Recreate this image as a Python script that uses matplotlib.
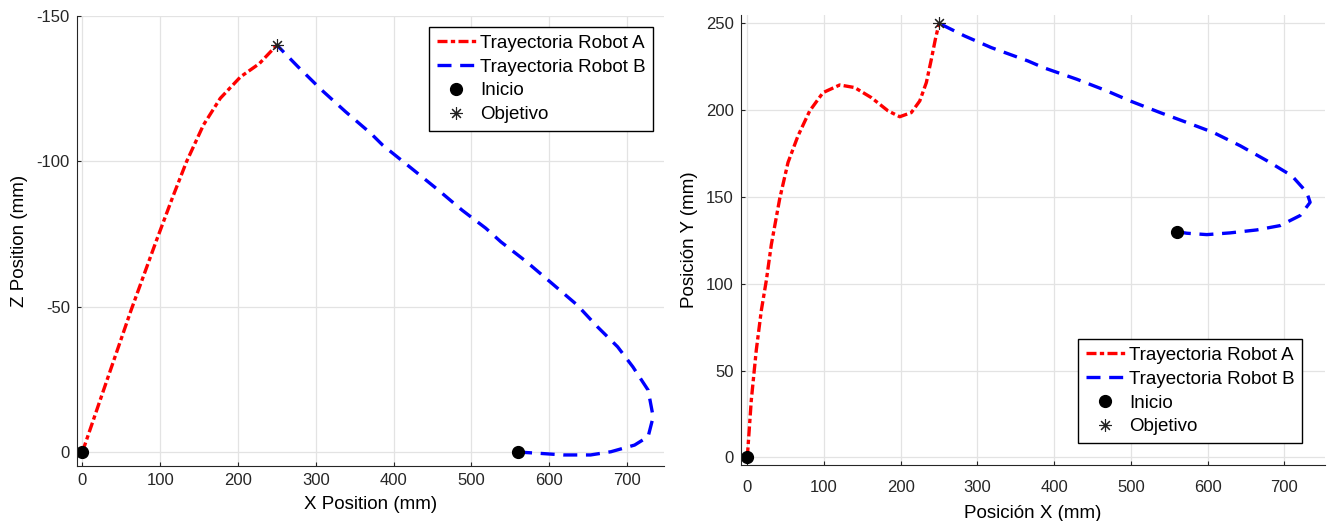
"""
    TRAYECTORIAS ROBOT A / ROBOT B  (vista XZ y vista XY)
"""
import numpy as np
import matplotlib
matplotlib.use("Agg")
from matplotlib import pyplot as plt

plt.rcParams['font.family'] = ['Liberation Sans', 'DejaVu Sans']
plt.rcParams['axes.unicode_minus'] = False

# Vista X-Z (robot A sale de (0,0), robot B de (560,0), objetivo (250,-140))
xz_a_x = [0, 33.9, 62.2, 94.8, 116.5, 133.9, 155.6, 177.3, 203.4, 227.4, 250]
xz_a_z = [0, -26.5, -48.5, -72.5, -88, -99.9, -112.5, -121.7, -129.1, -133.6, -140]
xz_b_x = [560, 588, 618.5, 653.2, 679.3, 709.8, 727.2, 733.7, 727.2, 707.6, 688, 662, 635.9,
          601, 570.7, 538, 518.5, 488.1, 457.6, 423, 385.9, 370.8, 338.2, 307.7, 277.3, 250]
xz_b_z = [0, 0.45, 1.0, 1.0, -0.1, -2.4, -5.3, -12.1, -21.3, -29.3, -36.2, -43.1, -50.6,
          -58.6, -65.5, -72.3, -77, -83.2, -90.1, -97.6, -105.6, -109.6, -117.1, -124.5,
          -132.5, -140]

# Vista X-Y (robot A sale de (0,0), robot B de (560,130), objetivo (250,250))
xy_a_x = [0, 5.2, 11.7, 18.3, 24.8, 31.3, 42.2, 53.1, 66.1, 81.4, 98.7, 120.5, 140, 161.7,
          183.4, 198.7, 213.8, 224.8, 233.4, 239.9, 245.1, 250]
xy_a_y = [0, 32.9, 61.7, 84.7, 101.9, 122.5, 148.9, 169.9, 185.2, 199.6, 210.1, 214.5, 213,
          207.2, 199.6, 196.2, 198.6, 205.3, 215.9, 229.3, 240.8, 250]
xy_b_x = [560, 572.9, 599, 629.3, 664.1, 694.5, 720.6, 733.6, 729.3, 709.8, 677.2, 642.4,
          607.6, 572.9, 538, 499, 468.6, 429.5, 385.9, 366, 318.1, 283.4, 250]
xy_b_y = [130, 129.1, 128.3, 129.3, 131, 133.5, 139.3, 146.9, 152.6, 162.2, 170.9, 179.5,
          187.1, 192.9, 198.6, 205.3, 211.1, 217.8, 224.5, 228.3, 236, 242.7, 250]

inicio_xz = ([0, 560], [0, 0])
inicio_xy = ([0, 560], [0, 130])
objetivo_xz = (250, -140)
objetivo_xy = (250, 250)

fig = plt.figure(figsize=(13.31, 5.21), dpi=100)
ax1 = fig.add_axes([76.7/1331, 1-466/521, (664.3-76.7)/1331, (466-16)/521])
ax2 = fig.add_axes([740.7/1331, 1-465/521, (1325-740.7)/1331, (465-15)/521])


def draw(ax, ax_x, ax_y, bx_x, bx_y, ini, obj):
    ax.plot(ax_x, ax_y, color='red', lw=2.4, linestyle=(0, (3.0, 1.0, 1.3, 1.0)),
            label='Trayectoria Robot A')
    ax.plot(bx_x, bx_y, color='blue', lw=2.4, linestyle=(0, (4.2, 2.6)),
            label='Trayectoria Robot B')
    ax.plot(ini[0], ini[1], 'o', color='black', ms=8.5, label='Inicio')
    ax.plot(obj[0], obj[1], linestyle='none', marker=(8, 2, 0), color='#222222',
            ms=9, mew=0.8, label='Objetivo')
    ax.grid(True, color='#e3e3e3', lw=0.9)
    ax.set_axisbelow(True)
    for s in ['top', 'right']:
        ax.spines[s].set_visible(False)
    for s in ['left', 'bottom']:
        ax.spines[s].set_color('#262626')
    ax.tick_params(direction='in', length=3, labelsize=12, colors='#262626', pad=5)


def legend(ax, loc, anchor):
    ax.legend(loc=loc, bbox_to_anchor=anchor, bbox_transform=fig.transFigure,
              fancybox=False, edgecolor='black', framealpha=1, fontsize=13.5,
              handlelength=2.1, borderpad=0.42, labelspacing=0.36, handletextpad=0.2,
              borderaxespad=0)


draw(ax1, xz_a_x, xz_a_z, xz_b_x, xz_b_z, inicio_xz, objetivo_xz)
ax1.set_xlim(-7.3, 748)
ax1.set_ylim(4.8, -150)
ax1.set_xticks(np.arange(0, 701, 100))
ax1.set_yticks([-150, -100, -50, 0])
ax1.set_xlabel('X Position (mm)', fontsize=13.5, labelpad=6)
ax1.set_ylabel('Z Position (mm)', fontsize=13.5, labelpad=6)
legend(ax1, 'upper right', (653.3/1331, 1-26.7/521))

draw(ax2, xy_a_x, xy_a_y, xy_b_x, xy_b_y, inicio_xy, objetivo_xy)
ax2.set_xlim(-8.6, 753)
ax2.set_ylim(-4.4, 254.8)
ax2.set_xticks(np.arange(0, 701, 100))
ax2.set_yticks(np.arange(0, 251, 50))
ax2.tick_params(axis='x', pad=11)
ax2.set_xlabel('Posición X (mm)', fontsize=13.5, labelpad=7)
ax2.set_ylabel('Posición Y (mm)', fontsize=13.5, labelpad=6)
legend(ax2, 'lower right', (1302.3/1331, 1-443.3/521))

fig.savefig('out.png', dpi=100)
